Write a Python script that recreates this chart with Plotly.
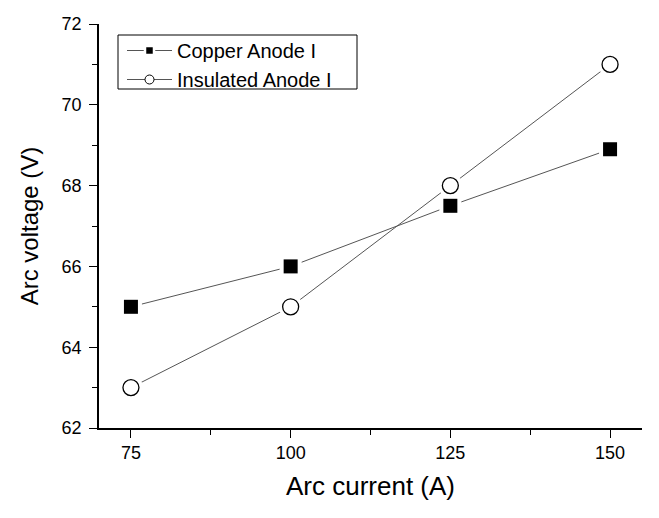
import plotly.graph_objects as go

current = [75, 100, 125, 150]
copper_voltage = [65.0, 66.0, 67.5, 68.9]
insulated_voltage = [63.0, 65.0, 68.0, 71.0]
series_names = ["Copper Anode I", "Insulated Anode I"]

LINE_COLOR = "#555555"
FONT = "Liberation Sans, Arial, sans-serif"
W, H = 659, 518
ML, MR, MT, MB = 99, 17, 24, 90
PW, PH = W - ML - MR, H - MT - MB


def px_to_paper_x(px):
    return (px - ML) / PW


def px_to_paper_y(py):
    return (H - MB - py) / PH


fig = go.Figure()

# connecting lines
for y in (copper_voltage, insulated_voltage):
    fig.add_trace(go.Scatter(x=current, y=y, mode="lines",
                             line=dict(color=LINE_COLOR, width=1),
                             showlegend=False, hoverinfo="skip"))
# white halos to create the gap between line and marker
fig.add_trace(go.Scatter(x=current, y=copper_voltage, mode="markers",
                         marker=dict(symbol="square", size=22, color="white", line=dict(width=0)),
                         showlegend=False, hoverinfo="skip"))
fig.add_trace(go.Scatter(x=current, y=insulated_voltage, mode="markers",
                         marker=dict(symbol="circle", size=24, color="white", line=dict(width=0)),
                         showlegend=False, hoverinfo="skip"))
# markers
fig.add_trace(go.Scatter(x=current, y=copper_voltage, mode="markers",
                         marker=dict(symbol="square", size=14, color="black", line=dict(width=0)),
                         showlegend=False))
fig.add_trace(go.Scatter(x=current, y=insulated_voltage, mode="markers",
                         marker=dict(symbol="circle", size=16, color="white",
                                     line=dict(width=1.3, color="black")),
                         showlegend=False))
# legend entries
fig.add_trace(go.Scatter(x=[None], y=[None], mode="lines+markers", name=series_names[0],
                         line=dict(color=LINE_COLOR, width=1),
                         marker=dict(symbol="square", size=9, color="black",
                                     line=dict(width=2.5, color="white"))))
fig.add_trace(go.Scatter(x=[None], y=[None], mode="lines+markers", name=series_names[1],
                         line=dict(color=LINE_COLOR, width=1),
                         marker=dict(symbol="circle", size=9, color="white",
                                     line=dict(width=1, color="black"))))

axis_common = dict(
    showline=True, linecolor="black", linewidth=1.7,
    ticks="outside", ticklen=8, tickwidth=1.3, tickcolor="black",
    showgrid=False, zeroline=False, mirror=False,
    tickfont=dict(family=FONT, size=18, color="black"),
)

fig.update_xaxes(range=[70, 155], tickvals=[75, 100, 125, 150],
                 minor=dict(tickvals=[87.5, 112.5, 137.5], ticks="outside", ticklen=5,
                            tickwidth=1.3, tickcolor="black"),
                 title=dict(text="Arc current (A)", font=dict(family=FONT, size=26, color="black"),
                            standoff=14),
                 **axis_common)
fig.update_yaxes(range=[62, 72], tickvals=[62, 64, 66, 68, 70, 72],
                 minor=dict(tickvals=[63, 65, 67, 69, 71], ticks="outside", ticklen=5,
                            tickwidth=1.3, tickcolor="black"),
                 title=dict(text="Arc voltage (V)", font=dict(family=FONT, size=24, color="black"),
                            standoff=16),
                 ticklabelstandoff=4,
                 **axis_common)

# legend frame
fig.add_shape(type="rect", xref="paper", yref="paper",
              x0=px_to_paper_x(118), x1=px_to_paper_x(357),
              y0=px_to_paper_y(89), y1=px_to_paper_y(35),
              line=dict(color="black", width=1), fillcolor="white", layer="below")

fig.update_layout(
    width=W, height=H,
    margin=dict(l=ML, r=MR, t=MT, b=MB),
    plot_bgcolor="white", paper_bgcolor="white",
    font=dict(family=FONT, color="black"),
    legend=dict(x=px_to_paper_x(122), y=px_to_paper_y(31), xanchor="left", yanchor="top",
                borderwidth=0, bgcolor="rgba(0,0,0,0)",
                font=dict(family=FONT, size=20, color="black"),
                tracegroupgap=0, itemwidth=45),
)

fig.write_html("out.html")
